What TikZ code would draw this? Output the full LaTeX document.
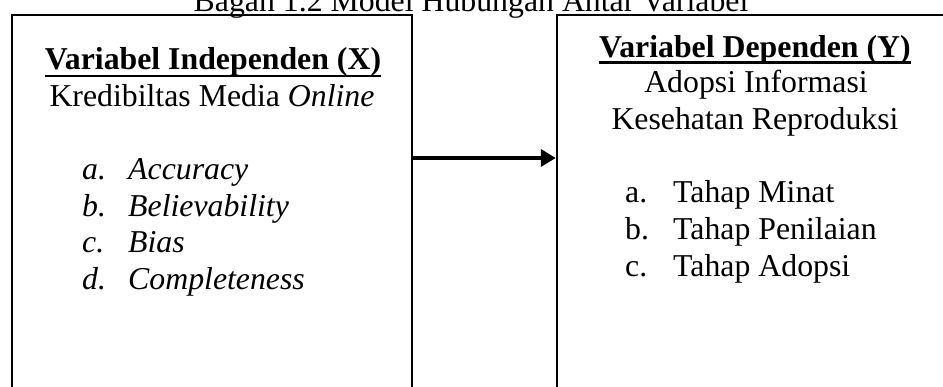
\documentclass[tikz,border=0pt]{standalone}
\usepackage{fontspec}
\setmainfont{Liberation Serif}
\usetikzlibrary{arrows.meta}
\begin{document}
\begin{tikzpicture}[x=1pt,y=-1pt,
  txt/.style={inner sep=0pt,font=\fontsize{31.8}{36}\selectfont},
  boxnode/.style={draw,line width=2.4pt,inner sep=0pt},
  link/.style={line width=3.7pt,-{Triangle[length=15pt,width=17pt]}},
  uline/.style={line width=2.6pt}]
\useasboundingbox (0,0) rectangle (943,387);
\clip (0,0) rectangle (943,387);
% title
\node[txt,anchor=base] (title) at (471,12) {Bagan 1.2 Model Hubungan Antar Variabel};
% boxes
\node[boxnode,minimum width=400pt,minimum height=420pt] (lbox) at (212,225) {};
\node[boxnode,minimum width=403pt,minimum height=420pt] (rbox) at (758.5,225) {};
% left box content
\node[txt,anchor=base,font=\fontsize{31.8}{36}\selectfont\bfseries] (lhead) at (213,70) {Variabel Independen (X)};
\draw[uline] ([yshift=-6pt]lhead.base west) -- ([yshift=-6pt]lhead.base east);
\node[txt,anchor=base] (lsub) at (212,107) {Kredibiltas Media \textit{Online}};
\node[txt,anchor=base west] (la) at (82,180) {\textit{a.}};
\node[txt,anchor=base west] (lat) at (128,180) {\textit{Accuracy}};
\node[txt,anchor=base west] (lb) at (82,217) {\textit{b.}};
\node[txt,anchor=base west] (lbt) at (128,217) {\textit{Believability}};
\node[txt,anchor=base west] (lc) at (82,253) {\textit{c.}};
\node[txt,anchor=base west] (lct) at (128,253) {\textit{Bias}};
\node[txt,anchor=base west] (ld) at (82,290) {\textit{d.}};
\node[txt,anchor=base west] (ldt) at (128,290) {\textit{Completeness}};
% right box content
\node[txt,anchor=base,font=\fontsize{31.8}{36}\selectfont\bfseries] (rhead) at (755,58) {Variabel Dependen (Y)};
\draw[uline] ([yshift=-4.5pt]rhead.base west) -- ([yshift=-4.5pt]rhead.base east);
\node[txt,anchor=base] (rsub1) at (756,93) {Adopsi Informasi};
\node[txt,anchor=base] (rsub2) at (755,130) {Kesehatan Reproduksi};
\node[txt,anchor=base west] (ra) at (625,203) {a.};
\node[txt,anchor=base west] (rat) at (673,203) {Tahap Minat};
\node[txt,anchor=base west] (rb) at (625,240) {b.};
\node[txt,anchor=base west] (rbt) at (673,240) {Tahap Penilaian};
\node[txt,anchor=base west] (rc) at (625,277) {c.};
\node[txt,anchor=base west] (rct) at (673,277) {Tahap Adopsi};
% arrow
\coordinate (ay) at (0,158);
\draw[link] (ay -| lbox.east) -- (ay -| rbox.west);
\end{tikzpicture}
\end{document}
